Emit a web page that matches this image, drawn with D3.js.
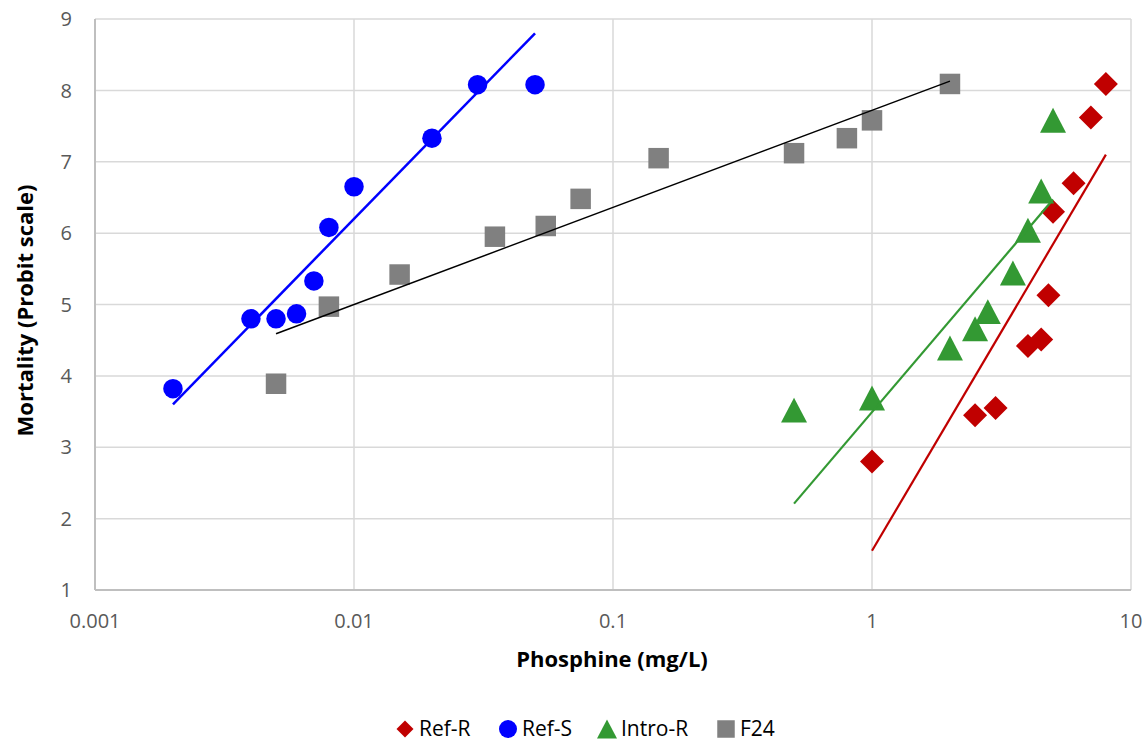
<!DOCTYPE html>
<html>
<head>
<meta charset="utf-8">
<script src="https://cdn.jsdelivr.net/npm/d3@7"></script>
<style>
  body { margin: 0; background: #fff; }
  svg { font-family: "Open Sans", sans-serif; }
</style>
</head>
<body>
<div id="chart"></div>
<script>
// Data
const refR = [[1, 2.8], [2.5, 3.45], [3, 3.55], [4, 4.42], [4.5, 4.51], [4.8, 5.13], [5, 6.3], [6, 6.7], [7, 7.62], [8, 8.09]];
const refS = [[0.002, 3.82], [0.004, 4.8], [0.005, 4.8], [0.006, 4.87], [0.007, 5.33], [0.008, 6.08], [0.01, 6.65], [0.02, 7.33], [0.03, 8.08], [0.05, 8.08]];
const introR = [[0.5, 3.52], [1, 3.69], [2, 4.39], [2.5, 4.66], [2.8, 4.9], [3.5, 5.44], [4, 6.04], [4.5, 6.59], [5, 7.58]];
const f24 = [[0.005, 3.89], [0.008, 4.97], [0.015, 5.42], [0.035, 5.95], [0.055, 6.1], [0.075, 6.48], [0.15, 7.05], [0.5, 7.12], [0.8, 7.33], [1, 7.58], [2, 8.09]];

// Trend line end points
const trendRefR = [[1, 1.55], [8, 7.1]];
const trendRefS = [[0.002, 3.6], [0.05, 8.8]];
const trendIntroR = [[0.5, 2.21], [5, 6.47]];
const trendF24 = [[0.005, 4.59], [2, 8.13]];

const xTicks = [0.001, 0.01, 0.1, 1, 10];
const yTicks = [1, 2, 3, 4, 5, 6, 7, 8, 9];
const legendNames = ["Ref-R", "Ref-S", "Intro-R", "F24"];

const W = 1146, H = 743;
const margin = { top: 19, right: 15, bottom: 153, left: 95 };
const width = W - margin.left - margin.right;
const height = H - margin.top - margin.bottom;

const svg = d3.select("#chart").append("svg")
  .attr("width", W)
  .attr("height", H);

const g = svg.append("g")
  .attr("transform", `translate(${margin.left},${margin.top})`);

const x = d3.scaleLog().domain([0.001, 10]).range([0, width]);
const y = d3.scaleLinear().domain([1, 9]).range([height, 0]);

// Gridlines
g.append("g")
  .selectAll("line")
  .data(yTicks)
  .join("line")
  .attr("x1", 0).attr("x2", width)
  .attr("y1", d => y(d)).attr("y2", d => y(d))
  .attr("stroke", "#d9d9d9")
  .attr("stroke-width", 1.5);

g.append("g")
  .selectAll("line")
  .data(xTicks)
  .join("line")
  .attr("x1", d => x(d)).attr("x2", d => x(d))
  .attr("y1", 0).attr("y2", height)
  .attr("stroke", "#d9d9d9")
  .attr("stroke-width", 1.5);

// Axis lines
g.append("line")
  .attr("x1", 0).attr("x2", 0).attr("y1", 0).attr("y2", height)
  .attr("stroke", "#bfbfbf").attr("stroke-width", 2);
g.append("line")
  .attr("x1", 0).attr("x2", width).attr("y1", height).attr("y2", height)
  .attr("stroke", "#bfbfbf").attr("stroke-width", 2);

// Tick labels
g.append("g")
  .selectAll("text")
  .data(yTicks)
  .join("text")
  .attr("x", -23)
  .attr("y", d => y(d))
  .attr("dy", "0.36em")
  .attr("text-anchor", "end")
  .attr("fill", "#595959")
  .style("font-size", "20px")
  .text(d => d);

g.append("g")
  .selectAll("text")
  .data(xTicks)
  .join("text")
  .attr("x", d => x(d))
  .attr("y", height + 38)
  .attr("text-anchor", "middle")
  .attr("fill", "#595959")
  .style("font-size", "20px")
  .text(d => d3.format("~g")(d));

// Axis titles
g.append("text")
  .attr("x", width / 2 - 1)
  .attr("y", height + 77)
  .attr("text-anchor", "middle")
  .attr("font-weight", "bold")
  .style("font-size", "22px")
  .attr("fill", "#000")
  .text("Phosphine (mg/L)");

g.append("text")
  .attr("transform", "rotate(-90)")
  .attr("x", -height / 2 - 6)
  .attr("y", -62)
  .attr("text-anchor", "middle")
  .attr("font-weight", "bold")
  .style("font-size", "22px")
  .attr("fill", "#000")
  .text("Mortality (Probit scale)");

// Marker shapes, size = bounding box width in px
const shapes = {
  diamond: { draw(ctx, s) { const r = s / 2; ctx.moveTo(0, -r); ctx.lineTo(r, 0); ctx.lineTo(0, r); ctx.lineTo(-r, 0); ctx.closePath(); } },
  circle: { draw(ctx, s) { const r = s / 2; ctx.moveTo(r, 0); ctx.arc(0, 0, r, 0, 2 * Math.PI); } },
  triangle: { draw(ctx, s) { const w = s / 2, h = s * 0.48; ctx.moveTo(0, -h); ctx.lineTo(w, h); ctx.lineTo(-w, h); ctx.closePath(); } },
  square: { draw(ctx, s) { const r = s / 2; ctx.rect(-r, -r, s, s); } }
};
const marker = (shape, s) => d3.symbol().type(shapes[shape]).size(s)();

const series = [
  { data: refR, color: "#c00000", shape: "diamond", size: 24, legendSize: 17 },
  { data: refS, color: "#0000ff", shape: "circle", size: 19.5, legendSize: 18 },
  { data: introR, color: "#339933", shape: "triangle", size: 26, legendSize: 20 },
  { data: f24, color: "#808080", shape: "square", size: 20.5, legendSize: 17.5 }
];

series.forEach(s => {
  g.append("g")
    .selectAll("path")
    .data(s.data)
    .join("path")
    .attr("transform", d => `translate(${x(d[0])},${y(d[1])})`)
    .attr("d", marker(s.shape, s.size))
    .attr("fill", s.color);
});

// Trend lines
const line = d3.line().x(d => x(d[0])).y(d => y(d[1]));
const trends = [
  { data: trendRefR, color: "#c00000", w: 2.2 },
  { data: trendRefS, color: "#0000ff", w: 2.5 },
  { data: trendIntroR, color: "#339933", w: 2.2 },
  { data: trendF24, color: "#000000", w: 1.5 }
];
trends.forEach(t => {
  g.append("path")
    .datum(t.data)
    .attr("d", line)
    .attr("fill", "none")
    .attr("stroke", t.color)
    .attr("stroke-width", t.w);
});

// Legend
const legendX = [405, 508, 607, 726];
const legend = svg.append("g");
series.forEach((s, i) => {
  legend.append("path")
    .attr("transform", `translate(${legendX[i]},729)`)
    .attr("d", marker(s.shape, s.legendSize))
    .attr("fill", s.color);
  legend.append("text")
    .attr("x", legendX[i] + 14)
    .attr("y", 729)
    .attr("dy", "0.35em")
    .attr("fill", "#000")
    .style("font-size", "21px")
    .text(legendNames[i]);
});
</script>
</body>
</html>
